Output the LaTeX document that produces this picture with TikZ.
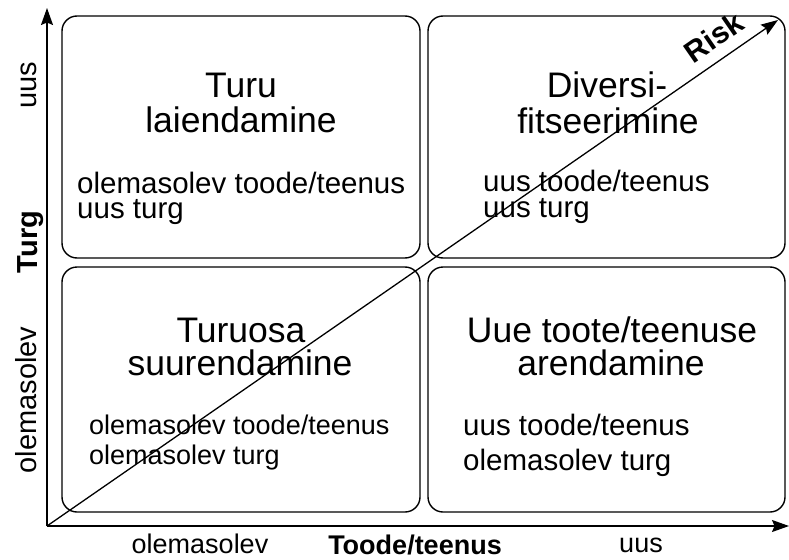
\documentclass[tikz,border=0pt]{standalone}
\usepackage{fontspec}
\setmainfont{Liberation Sans}
\usetikzlibrary{arrows.meta}
\tikzset{
  quad/.style={draw, line width=1.4pt, rounded corners=15pt, inner sep=0pt},
  axis/.style={line width=1.3pt, -{Stealth[length=17pt,width=12pt,inset=2.5pt]}},
  title/.style={anchor=base, inner sep=0pt, font=\fontsize{35.5}{34}\selectfont},
  small/.style={anchor=base west, inner sep=0pt, font=\fontsize{29.5}{25}\selectfont},
  smaller/.style={anchor=base west, inner sep=0pt, font=\fontsize{27}{25}\selectfont},
  axlab/.style={anchor=base, inner sep=0pt, font=\fontsize{27}{30}\selectfont},
  axbold/.style={anchor=base, inner sep=0pt, font=\fontsize{27}{30}\selectfont\bfseries},
  ylab/.style={anchor=base, inner sep=0pt, rotate=90, font=\fontsize{29}{30}\selectfont},
}
\begin{document}
\begin{tikzpicture}[x=1pt,y=-1pt]
\useasboundingbox (0,0) rectangle (789,559);
% quadrants
\node[quad, minimum width=358pt, minimum height=242pt] (tl) at (241,137) {};
\node[quad, minimum width=357pt, minimum height=242pt] (tr) at (606.5,137) {};
\node[quad, minimum width=358pt, minimum height=245pt] (bl) at (241,389.5) {};
\node[quad, minimum width=357pt, minimum height=245pt] (br) at (606.5,389.5) {};
% axes
\coordinate (O) at (47,526);
\coordinate (Ytip) at (47,8);
\coordinate (Xtip) at (789,526);
\coordinate (Rtip) at (778,20);
\draw[axis] (O) -- (Ytip);
\draw[axis] (O) -- (Xtip);
\draw[axis] (O) -- (Rtip);
\node[anchor=base, inner sep=0pt, rotate=34.7, font=\fontsize{30}{30}\selectfont\bfseries] (risk) at (720,46) {Risk};
% titles
\node[title] (t1a) at (241,98) {Turu};
\node[title] (t1b) at (241,132) {laiendamine};
\node[title] (t2a) at (607,98) {Diversi-};
\node[title] (t2b) at (608,133) {fitseerimine};
\node[title] (t3a) at (241,342) {Turuosa};
\node[title] (t3b) at (240,375) {suurendamine};
\node[title] (t4a) at (612,342) {Uue toote/teenuse};
\node[title] (t4b) at (611,375) {arendamine};
% descriptions
\node[small] (s1a) at (77,193) {olemasolev toode/teenus};
\node[small] (s1b) at (77,218) {uus turg};
\node[small] (s2a) at (483,191) {uus toode/teenus};
\node[small] (s2b) at (483,217) {uus turg};
\node[smaller] (s3a) at (89,434) {olemasolev toode/teenus};
\node[smaller] (s3b) at (89,464) {olemasolev turg};
\node[small] (s4a) at (463,435) {uus toode/teenus};
\node[small] (s4b) at (463,470) {olemasolev turg};
% axis labels
\node[axlab] (xa) at (200,553) {olemasolev};
\node[axbold] (xt) at (415,554) {Toode/teenus};
\node[axlab] (xb) at (641,552) {uus};
\node[ylab] (ya) at (36,85) {uus};
\node[ylab, font=\fontsize{29}{30}\selectfont\bfseries] (yt) at (37,242) {Turg};
\node[ylab] (yb) at (36,400) {olemasolev};
\end{tikzpicture}
\end{document}
